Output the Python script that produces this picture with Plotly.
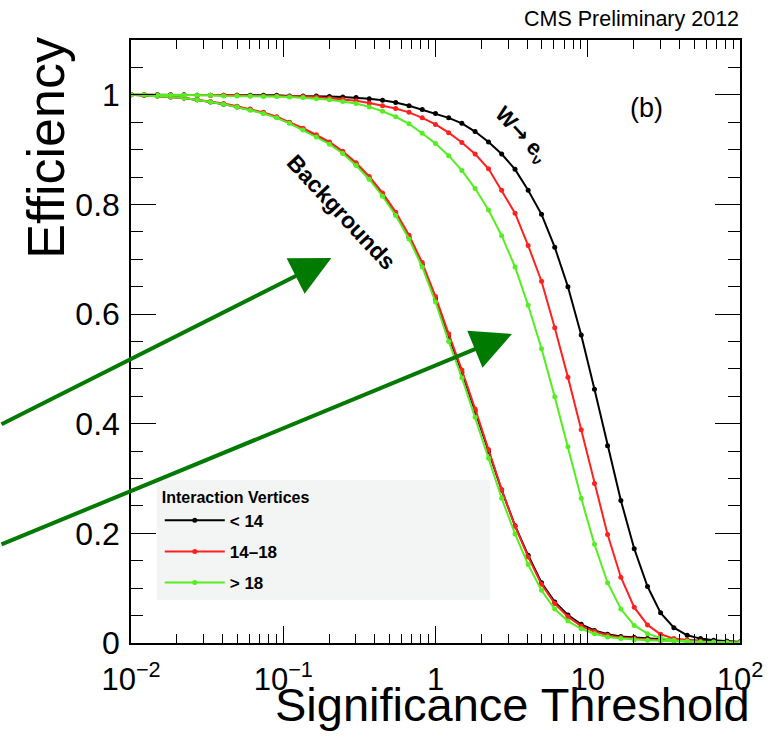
import plotly.graph_objects as go

# Significance threshold values (log-spaced points, 4 decades)
thresholds = [0.0100, 0.0122, 0.0149, 0.0182, 0.0223, 0.0272, 0.0333, 0.0406, 0.0497, 0.0607,
              0.0741, 0.0906, 0.110, 0.135, 0.165, 0.201, 0.246, 0.301, 0.367, 0.449,
              0.548, 0.670, 0.818, 1.00, 1.22, 1.49, 1.82, 2.23, 2.72, 3.33,
              4.06, 4.97, 6.07, 7.41, 9.06, 11.07, 13.5, 16.5, 20.2, 24.7,
              30.1, 36.8, 45.0, 55.0, 67.1, 82.0, 100.0]

# W -> e nu efficiency
sig_lt14 = [1.000, 1.000, 1.000, 1.000, 1.000, 0.999, 0.999, 0.999, 0.999, 0.999, 0.999, 0.999, 0.998,
            0.998, 0.998, 0.997, 0.996, 0.995, 0.993, 0.990, 0.986, 0.980, 0.973,
            0.966, 0.958, 0.948, 0.933, 0.914, 0.892, 0.864, 0.826, 0.782, 0.722, 0.650, 0.562,
            0.463, 0.360, 0.260, 0.172, 0.103, 0.055, 0.028, 0.014, 0.008, 0.005, 0.003, 0.002]
sig_14_18 = [1.000, 1.000, 1.000, 0.999, 0.999, 0.999, 0.999, 0.999, 0.999, 0.998, 0.998, 0.998, 0.997,
             0.997, 0.996, 0.994, 0.992, 0.989, 0.985, 0.980, 0.975, 0.968, 0.958,
             0.946, 0.931, 0.913, 0.892, 0.865, 0.826, 0.784, 0.725, 0.660, 0.575, 0.485, 0.389,
             0.291, 0.198, 0.120, 0.065, 0.033, 0.016, 0.008, 0.005, 0.003, 0.002, 0.002, 0.001]
sig_gt18 = [1.000, 1.000, 0.999, 0.999, 0.999, 0.999, 0.999, 0.998, 0.998, 0.998, 0.997, 0.997,
            0.996, 0.995, 0.993, 0.991, 0.988, 0.984, 0.978, 0.970, 0.960, 0.947, 0.930,
            0.911, 0.889, 0.862, 0.829, 0.790, 0.743, 0.686, 0.616, 0.537, 0.449, 0.358, 0.264,
            0.180, 0.110, 0.062, 0.032, 0.017, 0.009, 0.005, 0.003, 0.002, 0.002, 0.001, 0.001]

# Background efficiency
bkg_lt14 = [1.000, 0.999, 0.998, 0.996, 0.994, 0.991, 0.987, 0.983, 0.978, 0.973, 0.967, 0.959, 0.949,
            0.937, 0.925, 0.912, 0.895, 0.873, 0.848, 0.818, 0.783, 0.740, 0.690,
            0.628, 0.560, 0.494, 0.423, 0.350, 0.279, 0.214, 0.160, 0.110, 0.075, 0.051, 0.034,
            0.023, 0.016, 0.012, 0.010, 0.008, 0.007, 0.006, 0.005, 0.004, 0.003, 0.003, 0.002]
bkg_14_18 = [1.000, 0.999, 0.998, 0.996, 0.994, 0.991, 0.988, 0.984, 0.979, 0.974, 0.968, 0.960, 0.950,
             0.939, 0.927, 0.914, 0.897, 0.876, 0.851, 0.821, 0.786, 0.744, 0.694,
             0.632, 0.564, 0.498, 0.427, 0.353, 0.280, 0.213, 0.157, 0.107, 0.072, 0.048, 0.031,
             0.021, 0.014, 0.010, 0.008, 0.006, 0.005, 0.004, 0.003, 0.003, 0.002, 0.002, 0.001]
bkg_gt18 = [1.000, 0.999, 0.998, 0.996, 0.994, 0.991, 0.987, 0.983, 0.978, 0.972, 0.966, 0.958, 0.948,
            0.936, 0.923, 0.910, 0.893, 0.871, 0.846, 0.815, 0.780, 0.737, 0.686,
            0.622, 0.550, 0.484, 0.412, 0.337, 0.264, 0.199, 0.143, 0.096, 0.062, 0.040, 0.026,
            0.017, 0.011, 0.008, 0.006, 0.005, 0.004, 0.003, 0.003, 0.002, 0.002, 0.001, 0.001]

groups = ["&lt; 14", "14–18", "&gt; 18"]
colors = ["#000000", "#ff2020", "#55ee22"]
signal = [sig_lt14, sig_14_18, sig_gt18]
background = [bkg_lt14, bkg_14_18, bkg_gt18]

x_tickvals = [0.01, 0.1, 1, 10, 100]
x_ticktext = ["10<sup>−2</sup>", "10<sup>−1</sup>", "1", "10", "10<sup>2</sup>"]

FONT = "Liberation Sans, Arial, Helvetica, sans-serif"

fig = go.Figure()
for name, col, s, b in zip(groups, colors, signal, background):
    fig.add_trace(go.Scatter(x=thresholds, y=b, mode="lines+markers", name=name,
                             legendgroup=name, showlegend=False,
                             line=dict(color=col, width=2), marker=dict(color=col, size=5)))
for name, col, s, b in zip(groups, colors, signal, background):
    fig.add_trace(go.Scatter(x=thresholds, y=s, mode="lines+markers", name="<b>" + name + "</b>",
                             legendgroup=name, showlegend=True,
                             line=dict(color=col, width=2), marker=dict(color=col, size=5)))

minor_x = [m * 10 ** e for e in range(-2, 2) for m in range(2, 10)]

fig.update_xaxes(type="log", range=[-2, 2], showline=True, linecolor="black", linewidth=1.5,
                 mirror="ticks", ticks="inside", ticklen=17, tickwidth=1.3, tickcolor="black",
                 tickmode="array", tickvals=x_tickvals, ticktext=x_ticktext,
                 showgrid=False, zeroline=False,
                 tickfont=dict(family=FONT, size=31, color="black"), ticklabelstandoff=8,
                 minor=dict(ticks="inside", ticklen=9, tickwidth=1.2, tickcolor="black",
                            tickvals=minor_x, showgrid=False))
fig.update_yaxes(range=[0, 1.1], showline=True, linecolor="black", linewidth=1.5,
                 mirror="ticks", ticks="inside", ticklen=25, tickwidth=1.3, tickcolor="black",
                 dtick=0.2, tick0=0, showgrid=False, zeroline=False,
                 tickfont=dict(family=FONT, size=32, color="black"), ticklabelstandoff=3,
                 minor=dict(ticks="inside", ticklen=12, tickwidth=1.2, tickcolor="black",
                            dtick=0.05, showgrid=False))

def px_to_paper(px, py):
    return (px - 131) / 614.0, (643 - py) / 603.0

annotations = []

def add_text(text, px, py, size, xanchor="center", angle=0):
    x, y = px_to_paper(px, py)
    annotations.append(dict(text=text, x=x, y=y, xref="paper", yref="paper",
                            xanchor=xanchor, yanchor="middle", showarrow=False,
                            textangle=angle, font=dict(family=FONT, size=size, color="black")))

add_text("CMS Preliminary 2012", 746, 19, 21.5, xanchor="right")
add_text("(b)", 651, 108, 27)
add_text("<b>W<span style='font-family:DejaVu Sans'>→</span> e<sub>ν</sub></b>", 524, 135, 22, angle=47)
add_text("<b>Backgrounds</b>", 343, 212, 23, angle=47)
add_text("Significance Threshold", 757, 704, 47, xanchor="right")
add_text("Efficiency", 45, 148, 52, angle=-90)

# green arrows
for (hx, hy), (tx0, ty0) in [((333, 258), (0, 425)), ((515, 334), (0, 545))]:
    px_, py_ = px_to_paper(hx, hy)
    annotations.append(dict(text="", x=px_, y=py_, xref="paper", yref="paper",
                            ax=tx0 - hx, ay=ty0 - hy, axref="pixel", ayref="pixel",
                            showarrow=True, arrowhead=2, arrowsize=2.0, arrowwidth=4,
                            arrowcolor="#007a00", standoff=0))

lx0, ly0 = px_to_paper(157, 600)
lx1, ly1 = px_to_paper(493, 480)
shapes = [dict(type="rect", xref="paper", yref="paper", x0=lx0, x1=lx1, y0=ly0, y1=ly1,
               fillcolor="#f3f4f4", line=dict(width=0), layer="below")]

legx, legy = px_to_paper(160, 482)
fig.update_layout(
    width=775, height=739,
    margin=dict(l=131, r=30, t=40, b=96),
    paper_bgcolor="white", plot_bgcolor="rgba(0,0,0,0)",
    font=dict(family=FONT, color="black"),
    annotations=annotations, shapes=shapes,
    legend=dict(x=legx, y=legy, xanchor="left", yanchor="top", bgcolor="rgba(0,0,0,0)",
                title=dict(text="<b>Interaction Vertices</b>", font=dict(family=FONT, size=16)),
                font=dict(family=FONT, size=17, color="black"), tracegroupgap=6,
                itemwidth=60, traceorder="grouped"),
)

fig.write_html("out.html")
